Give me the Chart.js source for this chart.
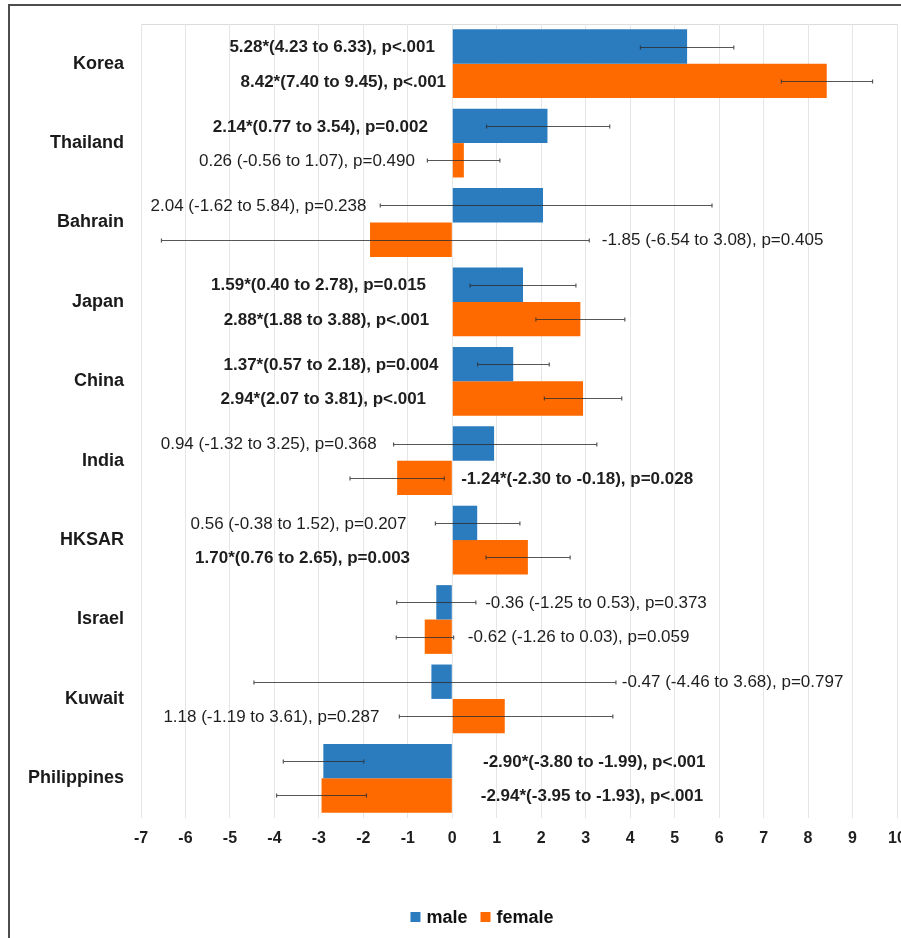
<!DOCTYPE html>
<html>
<head>
<meta charset="utf-8">
<title>Mean difference by country and sex</title>
<script src="https://cdn.jsdelivr.net/npm/chart.js@4.4.0/dist/chart.umd.min.js"></script>
<style>
  html, body { margin: 0; padding: 0; background: #fff; }
  canvas { display: block; }
</style>
</head>
<body>
<canvas id="ciChart" width="901" height="938"></canvas>
<script>
// Mean difference with 95% CI per country, male vs female

const countries = ['Korea', 'Thailand', 'Bahrain', 'Japan', 'China', 'India', 'HKSAR', 'Israel', 'Kuwait', 'Philippines'];

const maleMean = [5.28, 2.14, 2.04, 1.59, 1.37, 0.94, 0.56, -0.36, -0.47, -2.90];
const maleLow  = [4.23, 0.77, -1.62, 0.40, 0.57, -1.32, -0.38, -1.25, -4.46, -3.80];
const maleHigh = [6.33, 3.54, 5.84, 2.78, 2.18, 3.25, 1.52, 0.53, 3.68, -1.99];
const maleP    = ['<.001', '=0.002', '=0.238', '=0.015', '=0.004', '=0.368', '=0.207', '=0.373', '=0.797', '<.001'];

const femaleMean = [8.42, 0.26, -1.85, 2.88, 2.94, -1.24, 1.70, -0.62, 1.18, -2.94];
const femaleLow  = [7.40, -0.56, -6.54, 1.88, 2.07, -2.30, 0.76, -1.26, -1.19, -3.95];
const femaleHigh = [9.45, 1.07, 3.08, 3.88, 3.81, -0.18, 2.65, 0.03, 3.61, -1.93];
const femaleP    = ['<.001', '=0.490', '=0.405', '<.001', '<.001', '=0.028', '=0.003', '=0.059', '=0.287', '<.001'];

const xTicks = [-7, -6, -5, -4, -3, -2, -1, 0, 1, 2, 3, 4, 5, 6, 7, 8, 9, 10];

// where each note is anchored (x-axis units) and which way the text runs
const maleNoteAt = [
  ['right', -0.39], ['right', -0.55], ['right', -1.93], ['right', -0.59], ['right', -0.31],
  ['right', -1.70], ['right', -1.03], ['left', 0.74], ['left', 3.81], ['left', 0.69]
];
const femaleNoteAt = [
  ['right', -0.14], ['right', -0.84], ['left', 3.36], ['right', -0.52], ['right', -0.59],
  ['left', 0.20], ['right', -0.95], ['left', 0.35], ['right', -1.64], ['left', 0.64]
];

const FONT = '"Liberation Sans", Arial, Helvetica, sans-serif';
const MALE = '#2B7BBF';
const FEMALE = '#FF6A00';

const series = [
  { low: maleLow, high: maleHigh, mean: maleMean, p: maleP, at: maleNoteAt },
  { low: femaleLow, high: femaleHigh, mean: femaleMean, p: femaleP, at: femaleNoteAt }
];

const fmt = v => v.toFixed(2);
const isSig = (lo, hi) => lo > 0 || hi < 0;

function noteText(mean, lo, hi, p) {
  return `${fmt(mean)}${isSig(lo, hi) ? '*' : ' '}(${fmt(lo)} to ${fmt(hi)}), p${p}`;
}

// outer frame and top rule of the plot
const framePlugin = {
  id: 'frame',
  beforeDraw(chart) {
    const { ctx, chartArea } = chart;
    ctx.save();
    ctx.fillStyle = '#fff';
    ctx.fillRect(0, 0, chart.width, chart.height);
    ctx.strokeStyle = '#4d4d4d';
    ctx.lineWidth = 2;
    ctx.beginPath();
    ctx.moveTo(9, chart.height);
    ctx.lineTo(9, 5);
    ctx.lineTo(chart.width, 5);
    ctx.stroke();
    ctx.strokeStyle = '#dcdcdc';
    ctx.lineWidth = 1;
    ctx.beginPath();
    ctx.moveTo(chartArea.left, chartArea.top + 0.5);
    ctx.lineTo(chartArea.right, chartArea.top + 0.5);
    ctx.stroke();
    ctx.restore();
  }
};

// 95% CI whiskers
const errorBars = {
  id: 'errorBars',
  afterDatasetsDraw(chart) {
    const ctx = chart.ctx;
    const xs = chart.scales.x;
    ctx.save();
    ctx.strokeStyle = 'rgba(45,45,45,0.8)';
    ctx.lineWidth = 1.2;
    series.forEach((s, di) => {
      chart.getDatasetMeta(di).data.forEach((bar, i) => {
        const y = Math.round(bar.y) + 0.5;
        const x1 = xs.getPixelForValue(s.low[i]);
        const x2 = xs.getPixelForValue(s.high[i]);
        ctx.beginPath();
        ctx.moveTo(x1, y); ctx.lineTo(x2, y);
        ctx.moveTo(x1, y - 2); ctx.lineTo(x1, y + 2);
        ctx.moveTo(x2, y - 2); ctx.lineTo(x2, y + 2);
        ctx.stroke();
      });
    });
    ctx.restore();
  }
};

// estimate (CI), p-value notes; bold when the CI excludes zero
const notes = {
  id: 'notes',
  afterDatasetsDraw(chart) {
    const ctx = chart.ctx;
    const xs = chart.scales.x;
    ctx.save();
    ctx.fillStyle = '#1e1e1e';
    ctx.textBaseline = 'middle';
    series.forEach((s, di) => {
      chart.getDatasetMeta(di).data.forEach((bar, i) => {
        const [align, at] = s.at[i];
        const bold = isSig(s.low[i], s.high[i]);
        ctx.font = `${bold ? 'bold ' : ''}17px ${FONT}`;
        ctx.textAlign = align;
        ctx.fillText(noteText(s.mean[i], s.low[i], s.high[i], s.p[i]), xs.getPixelForValue(at), bar.y + 1);
      });
    });
    ctx.restore();
  }
};

// legend under the axis
const bottomLegend = {
  id: 'bottomLegend',
  afterDraw(chart) {
    const ctx = chart.ctx;
    const items = chart.data.datasets.map(d => ({ text: d.label, color: d.backgroundColor }));
    ctx.save();
    ctx.font = `bold 18px ${FONT}`;
    ctx.textBaseline = 'middle';
    ctx.textAlign = 'left';
    const box = 10, gap = 6, spacing = 13;
    const widths = items.map(it => box + gap + ctx.measureText(it.text).width);
    const total = widths.reduce((a, b) => a + b, 0) + spacing * (items.length - 1);
    let x = 482 - total / 2;
    const y = 918;
    items.forEach((it, i) => {
      ctx.fillStyle = it.color;
      ctx.fillRect(x, y - box / 2 - 1, box, box);
      ctx.fillStyle = '#111';
      ctx.fillText(it.text, x + box + gap, y);
      x += widths[i] + spacing;
    });
    ctx.restore();
  }
};

new Chart(document.getElementById('ciChart'), {
  type: 'bar',
  data: {
    labels: countries,
    datasets: [
      { label: 'male', data: maleMean, backgroundColor: MALE },
      { label: 'female', data: femaleMean, backgroundColor: FEMALE }
    ]
  },
  options: {
    indexAxis: 'y',
    responsive: false,
    animation: false,
    categoryPercentage: 0.866,
    barPercentage: 1,
    layout: { padding: { top: 24, right: 4, left: 0, bottom: 0 } },
    plugins: {
      legend: { display: false },
      tooltip: { enabled: false }
    },
    scales: {
      x: {
        min: xTicks[0],
        max: xTicks[xTicks.length - 1],
        afterBuildTicks: scale => { scale.ticks = xTicks.map(v => ({ value: v })); },
        ticks: { color: '#1e1e1e', font: { family: FONT, size: 16, weight: 'bold' }, padding: 11, maxRotation: 0 },
        grid: { color: '#e6e6e6', drawTicks: false },
        border: { display: false },
        afterFit: scale => { scale.height = 120; scale.paddingLeft = 0; scale.paddingRight = 0; }
      },
      y: {
        ticks: { color: '#1a1a1a', font: { family: FONT, size: 18, weight: 'bold' }, padding: 17 },
        grid: { display: false, drawTicks: false },
        border: { display: false },
        afterFit: scale => { scale.width = 141; scale.paddingTop = 0; scale.paddingBottom = 0; }
      }
    }
  },
  plugins: [framePlugin, errorBars, notes, bottomLegend]
});
</script>
</body>
</html>
